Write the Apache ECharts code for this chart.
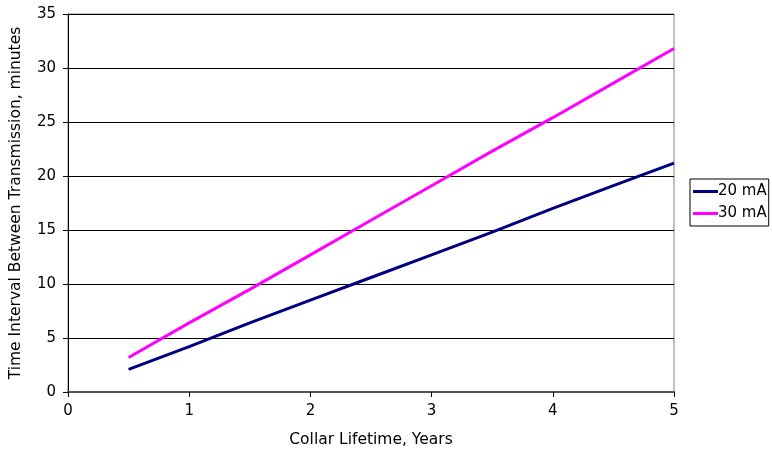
<!DOCTYPE html>
<html>
<head>
<meta charset="utf-8">
<script src="https://cdn.jsdelivr.net/npm/echarts@6/dist/echarts.min.js"></script>
<style>
  html, body { margin: 0; padding: 0; background: #fff; }
  #chart { width: 772px; height: 456px; }
</style>
</head>
<body>
<div id="chart"></div>
<script>
// Collar lifetime (years) vs. transmission interval (minutes)
const lifetimeYears = [0.5, 1, 1.5, 2, 2.5, 3, 3.5, 4, 4.5, 5];
const interval20mA = [2.1, 4.2, 6.4, 8.5, 10.6, 12.7, 14.8, 17.0, 19.1, 21.2];
const interval30mA = [3.2, 6.4, 9.5, 12.7, 15.9, 19.1, 22.3, 25.4, 28.6, 31.8];
const seriesNames = ['20 mA', '30 mA'];

const pairs = (xs, ys) => xs.map((x, i) => [x, ys[i]]);
const font = 'DejaVu Sans, sans-serif';

const chart = echarts.init(document.getElementById('chart'), null, { renderer: 'canvas' });
chart.setOption({
  animation: false,
  backgroundColor: '#ffffff',
  grid: {
    left: 67, top: 14, width: 607, height: 378,
    show: true, borderColor: '#808080', borderWidth: 1, backgroundColor: 'transparent'
  },
  legend: {
    orient: 'vertical',
    left: 690, top: 179,
    padding: [5, 2, 5, 3],
    itemGap: 7,
    itemWidth: 25, itemHeight: 3,
    icon: 'rect',
    borderColor: '#000', borderWidth: 1,
    textStyle: { fontFamily: font, fontSize: 15, color: '#000', padding: [0, 0, 0, -5] },
    data: seriesNames
  },
  xAxis: {
    type: 'value', min: 0, max: 5, interval: 1,
    name: 'Collar Lifetime, Years', nameLocation: 'middle', nameGap: 40,
    nameTextStyle: { fontFamily: font, fontSize: 15.5, color: '#000' },
    axisLine: { show: true, lineStyle: { color: '#555', width: 2 } },
    axisTick: { show: true, inside: false, length: 5, lineStyle: { color: '#000' } },
    axisLabel: { fontFamily: font, fontSize: 15, color: '#000', margin: 12 },
    splitLine: { show: false }
  },
  yAxis: {
    type: 'value', min: 0, max: 35, interval: 5,
    name: 'Time Interval Between Transmission, minutes', nameLocation: 'middle', nameGap: 44,
    nameTextStyle: { fontFamily: font, fontSize: 15.5, color: '#000' },
    axisLine: { show: true, lineStyle: { color: '#000', width: 1 } },
    axisTick: { show: true, length: 5, lineStyle: { color: '#000' } },
    axisLabel: { fontFamily: font, fontSize: 15, color: '#000', margin: 12 },
    splitLine: { show: true, lineStyle: { color: '#000', width: 1 } }
  },
  series: [
    {
      name: seriesNames[0], type: 'line', data: pairs(lifetimeYears, interval20mA),
      symbol: 'none', lineStyle: { color: '#000080', width: 3 }, itemStyle: { color: '#000080' }
    },
    {
      name: seriesNames[1], type: 'line', data: pairs(lifetimeYears, interval30mA),
      symbol: 'none', lineStyle: { color: '#FF00FF', width: 3 }, itemStyle: { color: '#FF00FF' }
    }
  ]
});
</script>
</body>
</html>
